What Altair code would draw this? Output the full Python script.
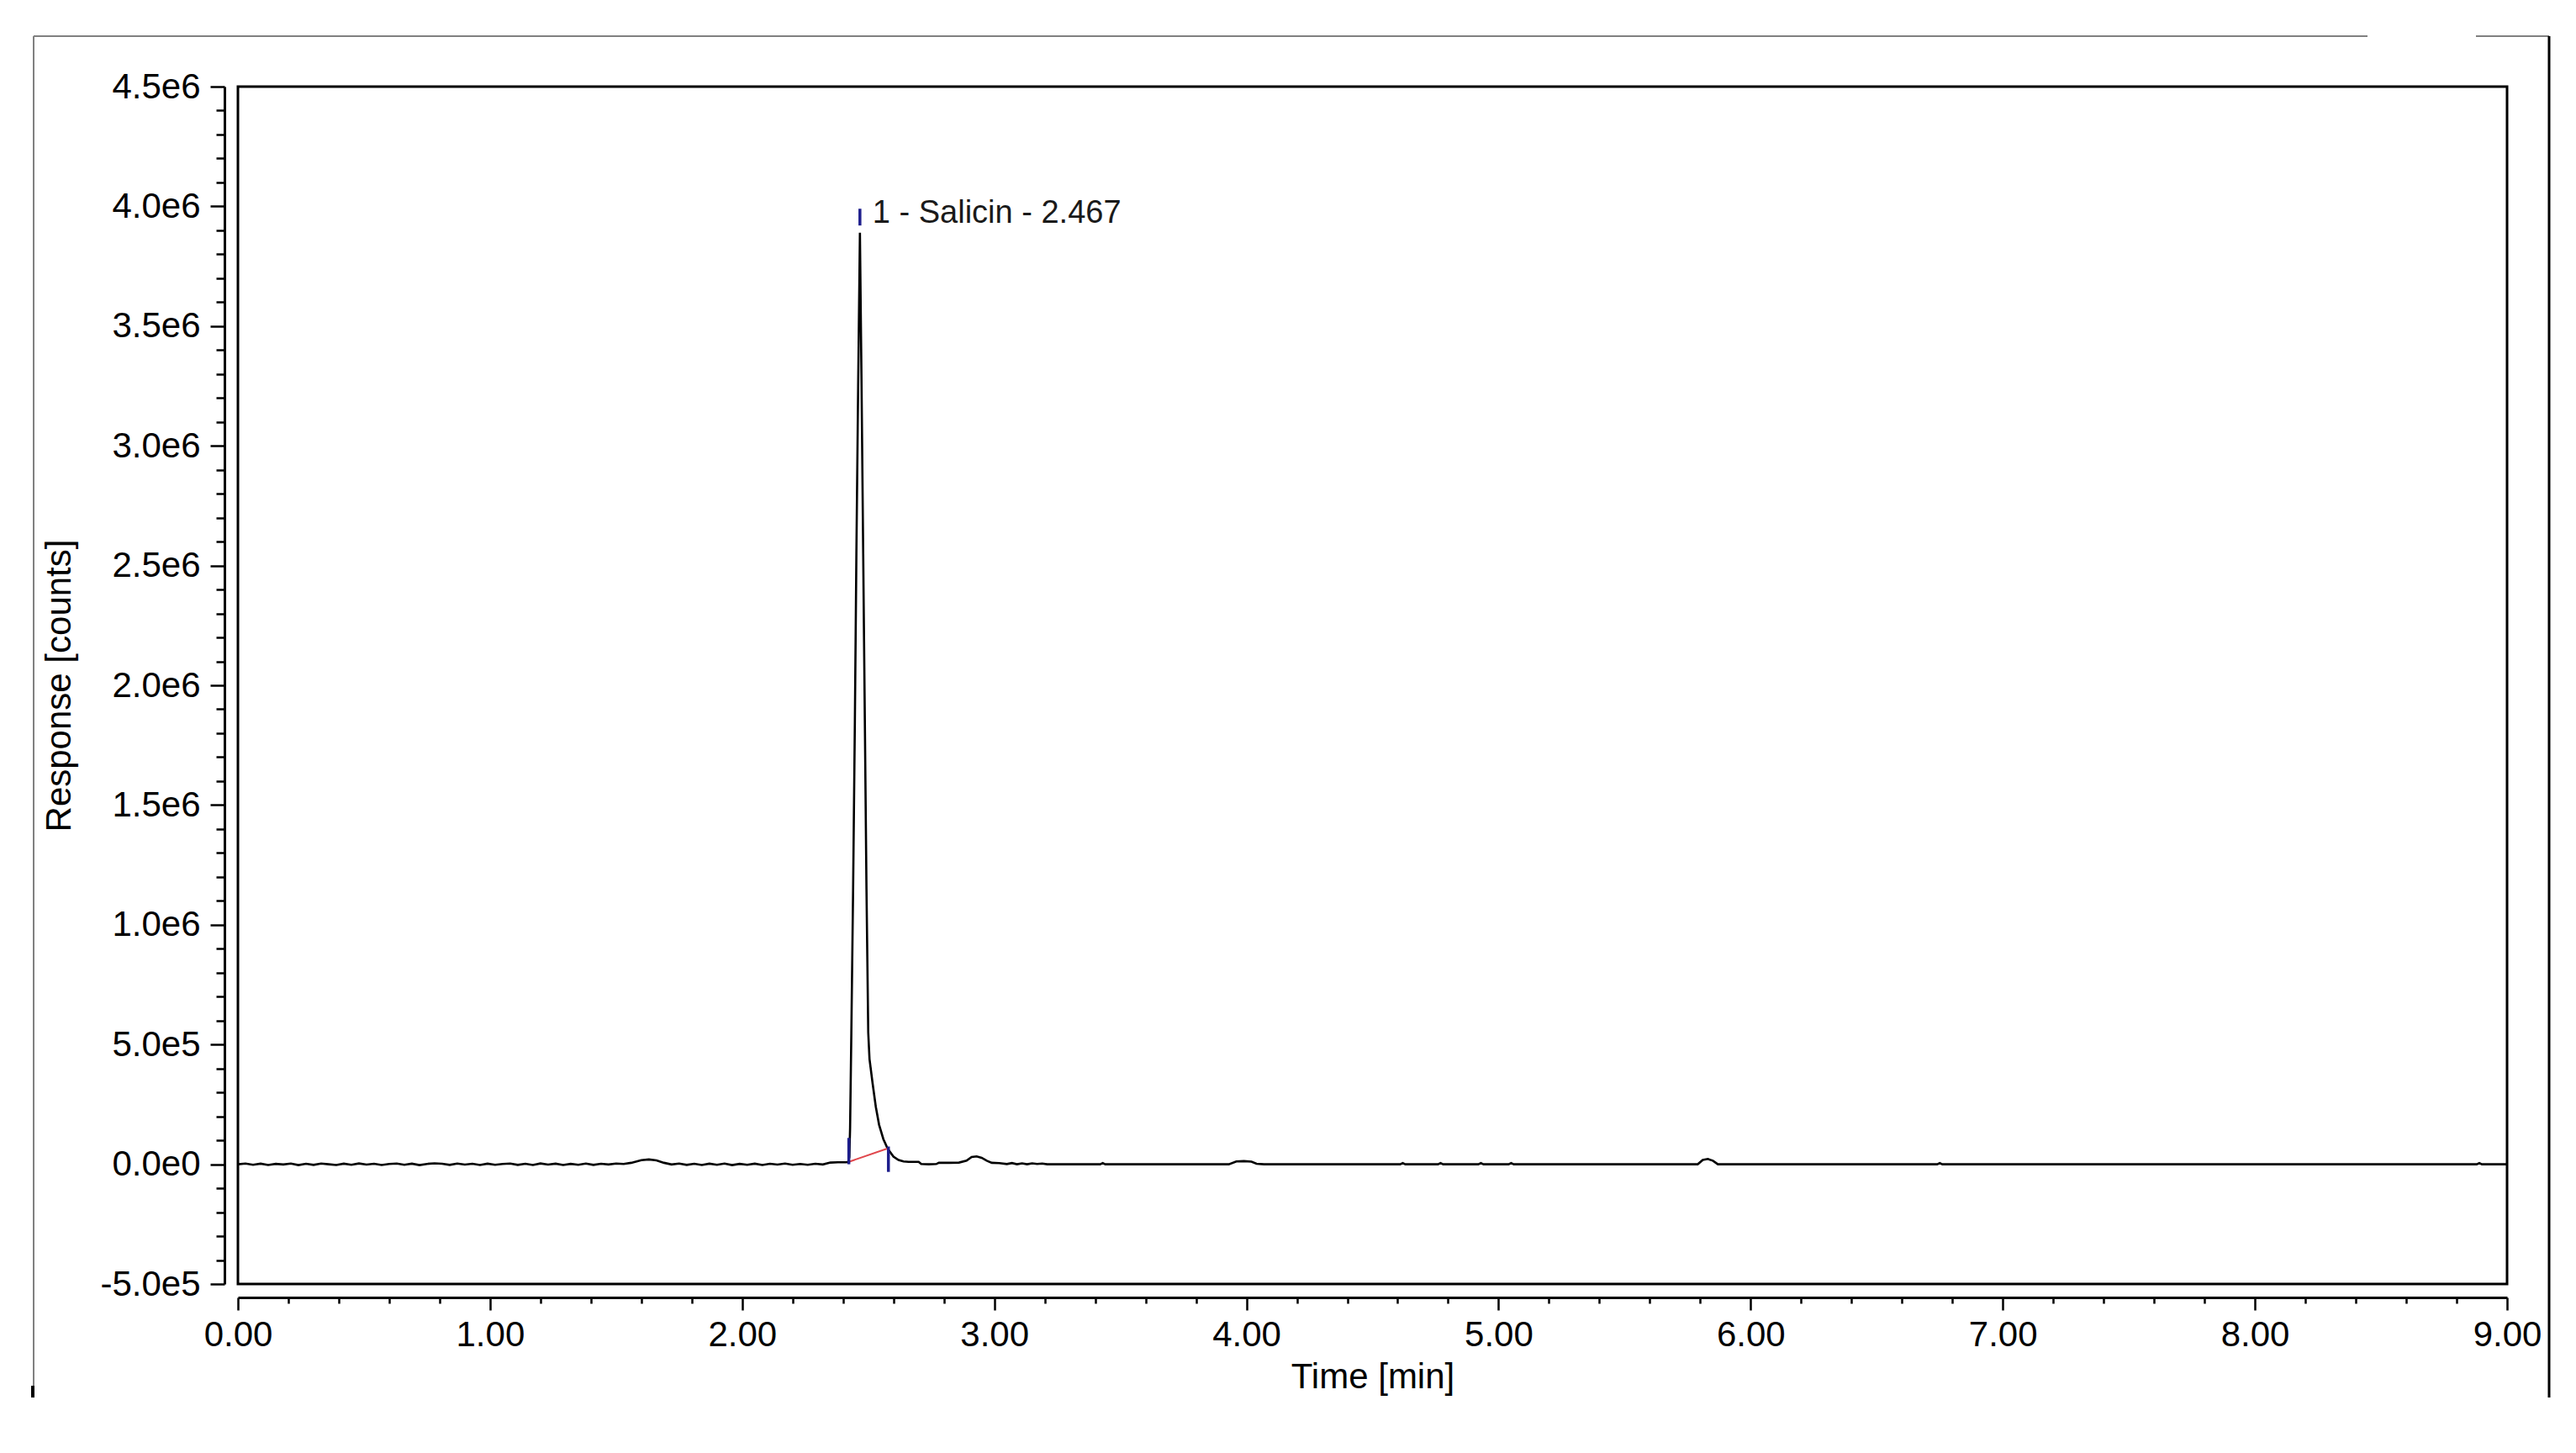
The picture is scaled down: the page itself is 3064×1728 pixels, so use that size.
import json
import altair as alt
import pandas as pd

# ---------------- data ----------------
base_time = [0.00, 0.03, 0.06, 0.09, 0.12, 0.15, 0.18, 0.21, 0.24, 0.27,
             0.30, 0.33, 0.36, 0.39, 0.42, 0.45, 0.48, 0.51, 0.54, 0.57,
             0.60, 0.63, 0.66, 0.69, 0.72, 0.75, 0.78, 0.81, 0.84, 0.87,
             0.90, 0.93, 0.96, 0.99, 1.02, 1.05, 1.08, 1.11, 1.14, 1.17,
             1.20, 1.23, 1.26, 1.29, 1.32, 1.35, 1.38, 1.41, 1.44, 1.47,
             1.50, 1.53, 1.56, 1.60, 1.63, 1.66, 1.69, 1.72, 1.75, 1.78,
             1.81, 1.84, 1.87, 1.90, 1.93, 1.96, 1.99, 2.02, 2.05, 2.08,
             2.11, 2.14, 2.17, 2.20, 2.23, 2.26, 2.29, 2.32, 2.35, 2.38,
             2.41, 2.42]
base_resp = [0, 3000, -2000, 2500, -3000, 1500, -1000, 3000, -3500, 2000,
             -2500, 3000, 0, -3000, 2500, -2000, 3500, -1500, 2000, -3000,
             1000, 3000, -2000, 2500, -3500, 1500, 4000, 2000, -2500, 3000,
             -1500, 2000, -3000, 2500, -2000, 1000, 3000, -2500, 2000, -3000,
             3500, -1500, 2500, -3000, 1500, -2000, 3000, -2500, 2000, -1000,
             3000, 1000, 6000, 17000, 20000, 16000, 6000, -1000, 3000, -2500,
             2000, -3000, 2500, -2000, 3000, -3500, 1500, -2000, 2500, -3000,
             2000, -1500, 3000, -2500, 1000, -2000, 2000, -1000, 7000, 8000,
             8000, 9000]

peak_time = [2.425, 2.428, 2.433, 2.440, 2.447, 2.453, 2.460, 2.467, 2.473, 2.480,
             2.487, 2.493, 2.500, 2.505, 2.517, 2.530, 2.543, 2.560, 2.577, 2.600,
             2.620, 2.640, 2.660]
peak_resp = [30000, 150000, 550000, 1150000, 1850000, 2550000, 3250000, 3890000, 3300000, 2550000,
             1800000, 1150000, 550000, 440000, 340000, 240000, 165000, 105000, 65000, 32000,
             18000, 12000, 10000]

tail_time = [2.68, 2.70, 2.71, 2.74, 2.77, 2.78, 2.82, 2.86, 2.89, 2.91,
             2.93, 2.95, 2.97, 2.99, 3.02, 3.05, 3.07, 3.09, 3.11, 3.13,
             3.15, 3.17, 3.19, 3.21, 3.42, 3.43, 3.44, 3.93, 3.96, 3.99,
             4.02, 4.04, 4.07, 4.61, 4.62, 4.63, 4.76, 4.77, 4.78, 4.92,
             4.93, 4.94, 5.04, 5.05, 5.06, 5.79, 5.81, 5.83, 5.85, 5.87,
             6.74, 6.75, 6.76, 8.88, 8.89, 8.90, 9.00]
tail_resp = [10000, 10000, 1000, 0, 1000, 6000, 6000, 7000, 15000, 30000,
             33000, 27000, 15000, 6000, 5000, 1000, 5000, 0, 4000, 0,
             4000, 1000, 3000, 0, 0, 5000, 0, 0, 12000, 13000,
             11000, 2000, 0, 0, 5000, 0, 0, 5000, 0, 0,
             5000, 0, 0, 5000, 0, 0, 18000, 22000, 15000, 0,
             0, 5000, 0, 0, 5000, 0, 0]

# integration markers (start, end, apex)
marker_time = [2.423, 2.580, 2.467]
marker_low = [0, -32000, 3920000]
marker_high = [110000, 74000, 3990000]

# integration baseline (red)
baseline_time = [2.423, 2.580]
baseline_resp = [10000, 67000]

# peak annotation
label_text = ["1 - Salicin - 2.467"]
label_time = [2.467]
label_resp = [3930000]

# axis ticks and labels
x_major = [0, 1, 2, 3, 4, 5, 6, 7, 8, 9]
x_labels = ["0.00", "1.00", "2.00", "3.00", "4.00", "5.00", "6.00", "7.00", "8.00", "9.00"]
y_major = [-500000, 0, 500000, 1000000, 1500000, 2000000, 2500000,
           3000000, 3500000, 4000000, 4500000]
y_labels = ["-5.0e5", "0.0e0", "5.0e5", "1.0e6", "1.5e6", "2.0e6", "2.5e6",
            "3.0e6", "3.5e6", "4.0e6", "4.5e6"]

# ---------------- tables ----------------
trace_df = pd.DataFrame({"t": base_time + peak_time + tail_time,
                         "v": base_resp + peak_resp + tail_resp})
marker_df = pd.DataFrame({"t": marker_time, "v": marker_low, "v2": marker_high})
red_df = pd.DataFrame({"t": baseline_time, "v": baseline_resp})
label_df = pd.DataFrame({"t": label_time, "v": label_resp, "label": label_text})

x_tick_values = [round(i * 0.2, 1) for i in range(46)]
y_tick_values = list(range(-500000, 4500001, 100000))

FONT = "Liberation Sans"

def label_expr(vals, labs):
    v = json.dumps(vals)
    l = json.dumps(labs)
    return f"indexof({v}, datum.value) >= 0 ? {l}[indexof({v}, datum.value)] : ''"

x_axis = alt.Axis(
    values=x_tick_values,
    offset=16,
    tickSize={"condition": {"test": f"indexof({json.dumps(x_major)}, datum.value) >= 0", "value": 15}, "value": 7},
    labelExpr=label_expr(x_major, x_labels),
    labelFontSize=42,
    labelPadding=9,
    labelFlush=False,
    labelOverlap=False,
    labelBound=False,
    title="Time [min]",
    titleFontSize=42,
    titleFontWeight="normal",
    titlePadding=9,
    grid=False,
)
y_axis = alt.Axis(
    values=y_tick_values,
    offset=16,
    tickSize={"condition": {"test": f"indexof({json.dumps(y_major)}, datum.value) >= 0", "value": 17}, "value": 10},
    labelExpr=label_expr(y_major, y_labels),
    labelFontSize=42,
    labelPadding=12,
    labelOverlap=False,
    labelBound=False,
    labelFlush=False,
    title="Response [counts]",
    titleFontSize=42,
    titleFontWeight="normal",
    titlePadding=26,
    grid=False,
)

x_enc = alt.X("t:Q", scale=alt.Scale(domain=[0, 9], nice=False, zero=False), axis=x_axis)
y_enc = alt.Y("v:Q", scale=alt.Scale(domain=[-500000, 4500000], nice=False, zero=False), axis=y_axis)

trace = alt.Chart(trace_df).mark_line(color="black", strokeWidth=2.6, clip=True).encode(x=x_enc, y=y_enc)
red = alt.Chart(red_df).mark_line(color="#e0474c", strokeWidth=2).encode(x=x_enc, y=y_enc)
markers = alt.Chart(marker_df).mark_rule(color="#1e1e8c", strokeWidth=3.5).encode(x=x_enc, y=y_enc, y2="v2:Q")
label = alt.Chart(label_df).mark_text(
    align="left", baseline="alphabetic", dx=15, font=FONT, fontSize=38, color="#1a1a1a"
).encode(x=x_enc, y=y_enc, text="label:N")

# window frame lines of the original screenshot
frame_df = pd.DataFrame({"k": [0]})
frame_left = alt.Chart(frame_df).mark_rule(color="#808080", strokeWidth=2).encode(
    x=alt.value(-243), y=alt.value(-60), y2=alt.value(1547))
frame_left_end = alt.Chart(frame_df).mark_rule(color="black", strokeWidth=4).encode(
    x=alt.value(-244), y=alt.value(1545), y2=alt.value(1559))
frame_top1 = alt.Chart(frame_df).mark_rule(color="#808080", strokeWidth=2).encode(
    x=alt.value(-243), x2=alt.value(2533), y=alt.value(-60))
frame_top2 = alt.Chart(frame_df).mark_rule(color="#808080", strokeWidth=2).encode(
    x=alt.value(2662), x2=alt.value(2749), y=alt.value(-60))
frame_right = alt.Chart(frame_df).mark_rule(color="black", strokeWidth=3).encode(
    x=alt.value(2749), y=alt.value(-60), y2=alt.value(1559))

chart = alt.layer(
    trace, red, markers, label, frame_left, frame_left_end, frame_top1, frame_top2, frame_right
).properties(
    width=2699,
    height=1424,
    autosize=alt.AutoSizeParams(type="none"),
    padding={"left": 275, "top": 95, "right": 60, "bottom": 180},
    background="white",
).configure_view(
    stroke="black", strokeWidth=3
).configure_axis(
    domainColor="black", domainWidth=3, tickColor="black", tickWidth=2.5,
    labelColor="black", titleColor="black", labelFont=FONT, titleFont=FONT,
)

chart.save("out.html", embed_options={"renderer": "svg", "actions": False})
